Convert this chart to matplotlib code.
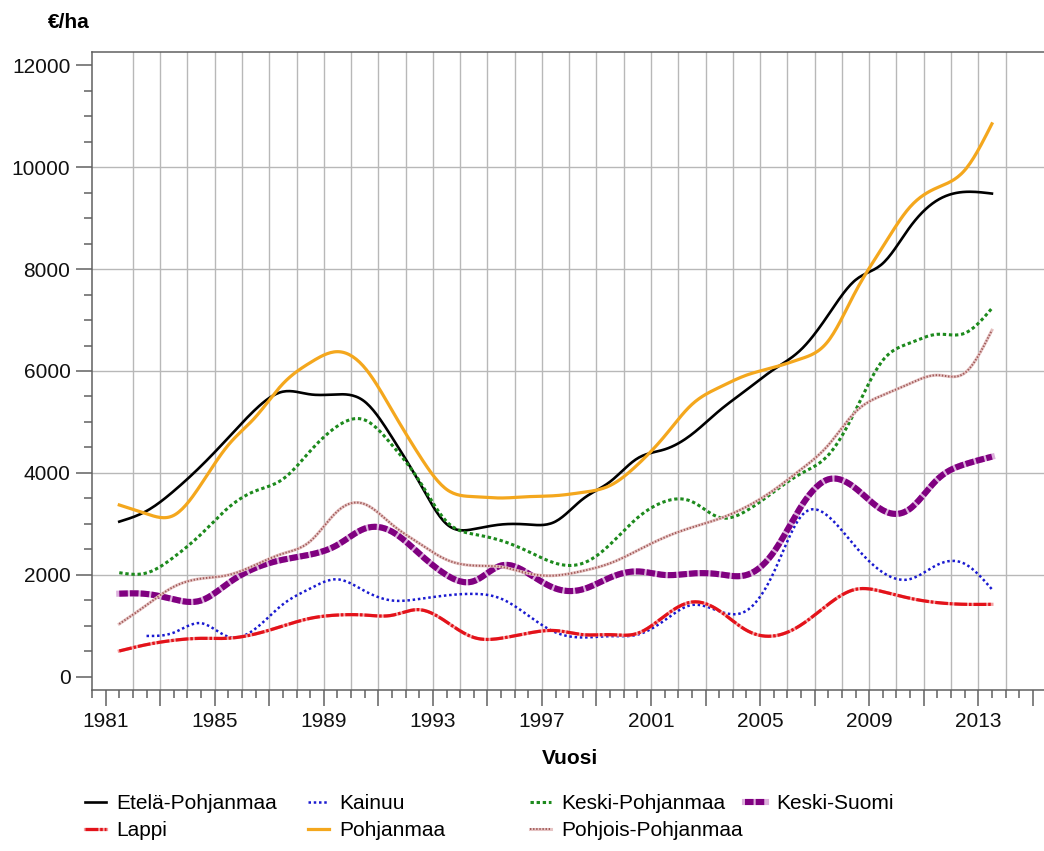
import numpy as np
import matplotlib
matplotlib.use('Agg')
import matplotlib.pyplot as plt
from matplotlib.lines import Line2D
from matplotlib.legend_handler import HandlerTuple
from matplotlib.ticker import FixedLocator, FixedFormatter, MultipleLocator

plt.rcParams['font.family'] = ['Liberation Sans', 'DejaVu Sans']

years = list(range(1981, 2014))

etela_pohjanmaa = [3046, 3255, 3647, 4137, 4693, 5250, 5595, 5542, 5542, 5400,
                   4700, 3820, 3000, 2900, 2990, 2990, 3050, 3490, 3830, 4286,
                   4463, 4760, 5220, 5630, 6030, 6420, 7100, 7785, 8111, 8827,
                   9349, 9512, 9479]
kainuu = [None, 805, 870, 1055, 790, 950, 1425, 1735, 1915, 1686,
          1500, 1530, 1600, 1630, 1536, 1205, 874, 775, 800, 830,
          1112, 1412, 1290, 1300, 2050, 3150, 3150, 2555, 2050, 1920,
          2200, 2220, 1720]
keski_pohjanmaa = [2045, 2040, 2350, 2800, 3320, 3650, 3880, 4430, 4920, 5040,
                   4550, 3850, 3050, 2800, 2675, 2460, 2230, 2230, 2600, 3120,
                   3440, 3440, 3130, 3260, 3630, 3990, 4350, 5230, 6210, 6550,
                   6720, 6740, 7230]
keski_suomi = [1634, 1628, 1523, 1500, 1840, 2140, 2300, 2400, 2590, 2910,
               2850, 2420, 2000, 1880, 2185, 2030, 1735, 1720, 1950, 2070,
               2000, 2030, 2015, 2000, 2450, 3340, 3875, 3700, 3270, 3300,
               3875, 4170, 4320]
lappi = [510, 635, 720, 758, 760, 845, 1000, 1150, 1215, 1215,
         1210, 1320, 1080, 775, 760, 860, 910, 830, 830, 855,
         1197, 1470, 1300, 916, 805, 1020, 1425, 1719, 1673, 1543,
         1458, 1425, 1425]
pohjanmaa = [3373, 3200, 3170, 3778, 4550, 5100, 5750, 6163, 6379, 6065,
             5230, 4350, 3680, 3536, 3510, 3536, 3556, 3620, 3755, 4160,
             4724, 5345, 5678, 5919, 6070, 6240, 6590, 7557, 8437, 9218,
             9596, 9935, 10847]
pohjois_pohjanmaa = [1040, 1410, 1770, 1930, 2000, 2200, 2420, 2660, 3250, 3390,
                     2990, 2620, 2300, 2185, 2160, 2030, 1990, 2080, 2230, 2480,
                     2738, 2934, 3103, 3338, 3665, 4070, 4547, 5200, 5527, 5756,
                     5919, 5960, 6800]

labels = ['Etelä-Pohjanmaa', 'Kainuu', 'Keski-Pohjanmaa', 'Keski-Suomi',
          'Lappi', 'Pohjanmaa', 'Pohjois-Pohjanmaa']


def Spline(x, y, n=16):
    # natural cubic spline through the yearly points, like the original smoothed lines
    x = np.asarray(x, float)
    y = np.asarray(y, float)
    k = len(x)
    h = np.diff(x)
    A = np.zeros((k, k))
    r = np.zeros(k)
    A[0, 0] = A[-1, -1] = 1
    for i in range(1, k - 1):
        A[i, i - 1] = h[i - 1]
        A[i, i] = 2 * (h[i - 1] + h[i])
        A[i, i + 1] = h[i]
        r[i] = 6 * ((y[i + 1] - y[i]) / h[i] - (y[i] - y[i - 1]) / h[i - 1])
    M = np.linalg.solve(A, r)
    xs, ys = [], []
    for i in range(k - 1):
        t = np.linspace(x[i], x[i + 1], n, endpoint=(i == k - 2))
        a = x[i + 1] - t
        b = t - x[i]
        s = (M[i] * a ** 3 + M[i + 1] * b ** 3) / (6 * h[i]) \
            + (y[i] / h[i] - M[i] * h[i] / 6) * a \
            + (y[i + 1] / h[i] - M[i + 1] * h[i] / 6) * b
        xs.extend(t)
        ys.extend(s)
    return np.array(xs), np.array(ys)


def Series(vals):
    # values are plotted at mid-year
    pts = [(yr + 0.5, v) for yr, v in zip(years, vals) if v is not None]
    return Spline([p[0] for p in pts], [p[1] for p in pts])


# style layers per series: list of (color, lw, linestyle)
styles = {
    'Etelä-Pohjanmaa': [('#000000', 1.9, '-')],
    'Kainuu': [('#1a1ad0', 1.8, (0, (1, 1.1)))],
    'Keski-Pohjanmaa': [('#1d8a1d', 2.2, (0, (1.1, 0.9)))],
    'Keski-Suomi': [('#dcb0dc', 4.4, '-'), ('#800080', 4.4, (0, (1.4, 0.35)))],
    'Lappi': [('#f4a0a0', 2.3, '-'), ('#e3121a', 2.3, (0, (4, 0.6, 0.8, 0.6)))],
    'Pohjanmaa': [('#f4a71d', 2.3, '-')],
    'Pohjois-Pohjanmaa': [('#e6c4c4', 2.2, '-'), ('#a05a58', 1.4, (0, (0.7, 0.9)))],
}
data = {
    'Etelä-Pohjanmaa': etela_pohjanmaa,
    'Kainuu': kainuu,
    'Keski-Pohjanmaa': keski_pohjanmaa,
    'Keski-Suomi': keski_suomi,
    'Lappi': lappi,
    'Pohjanmaa': pohjanmaa,
    'Pohjois-Pohjanmaa': pohjois_pohjanmaa,
}

fig = plt.figure(figsize=(10.44, 8.51), dpi=100)
ax = fig.add_axes([92 / 1044, 1 - 690 / 851, 1 - 92 / 1044, (690 - 52) / 851])

ax.set_xlim(1980.5, 2015.41)
ax.set_ylim(-255, 12255)

grid_col = '#b8b8b8'
for yr in range(1982, 2015):
    ax.axvline(yr, color=grid_col, lw=1.0, zorder=0)
for v in range(2000, 12000, 2000):
    ax.axhline(v, color=grid_col, lw=1.0, zorder=0)

handles = {}
for name in labels:
    xs, ys = Series(data[name])
    parts = []
    for color, lw, ls in styles[name]:
        ax.plot(xs, ys, color=color, lw=lw, linestyle=ls, zorder=3)
        parts.append(Line2D([], [], color=color, lw=lw, linestyle=ls))
    handles[name] = tuple(parts)

spine_col = '#606060'
ax.spines['right'].set_visible(False)
for s in ['left', 'top', 'bottom']:
    ax.spines[s].set_color(spine_col)
    ax.spines[s].set_linewidth(1.1)

major_x = list(range(1981, 2016, 2))
ax.xaxis.set_major_locator(FixedLocator(major_x))
ax.xaxis.set_major_formatter(FixedFormatter([str(y) if (y - 1981) % 4 == 0 else '' for y in major_x]))
ax.xaxis.set_minor_locator(MultipleLocator(0.5))
ax.yaxis.set_major_locator(FixedLocator(range(0, 12001, 2000)))
ax.yaxis.set_minor_locator(MultipleLocator(500))
ax.tick_params(which='major', length=11.5, width=1.1, color=spine_col, labelsize=15,
               labelcolor='#111111', pad=4)
ax.tick_params(which='minor', length=6, width=1.1, color=spine_col)

fig.text(48 / 1044, 1 - 22 / 851, '€/ha', ha='left', va='center', fontsize=15, fontweight='bold')
fig.text(570 / 1044, 1 - 758 / 851, 'Vuosi', ha='center', va='center', fontsize=15, fontweight='bold')

columns = [(85, ['Etelä-Pohjanmaa', 'Lappi']),
           (308, ['Kainuu', 'Pohjanmaa']),
           (530, ['Keski-Pohjanmaa', 'Pohjois-Pohjanmaa']),
           (745, ['Keski-Suomi'])]
for xpix, names in columns:
    fig.legend([handles[n] for n in names], names, loc='upper left',
               bbox_to_anchor=(xpix / 1044, 1 - 794 / 851), frameon=False,
               borderpad=0, borderaxespad=0, handlelength=1.0, handletextpad=0.5,
               labelspacing=0.4, fontsize=15,
               handler_map={tuple: HandlerTuple(ndivide=1)})

fig.savefig('out.png', dpi=100)
